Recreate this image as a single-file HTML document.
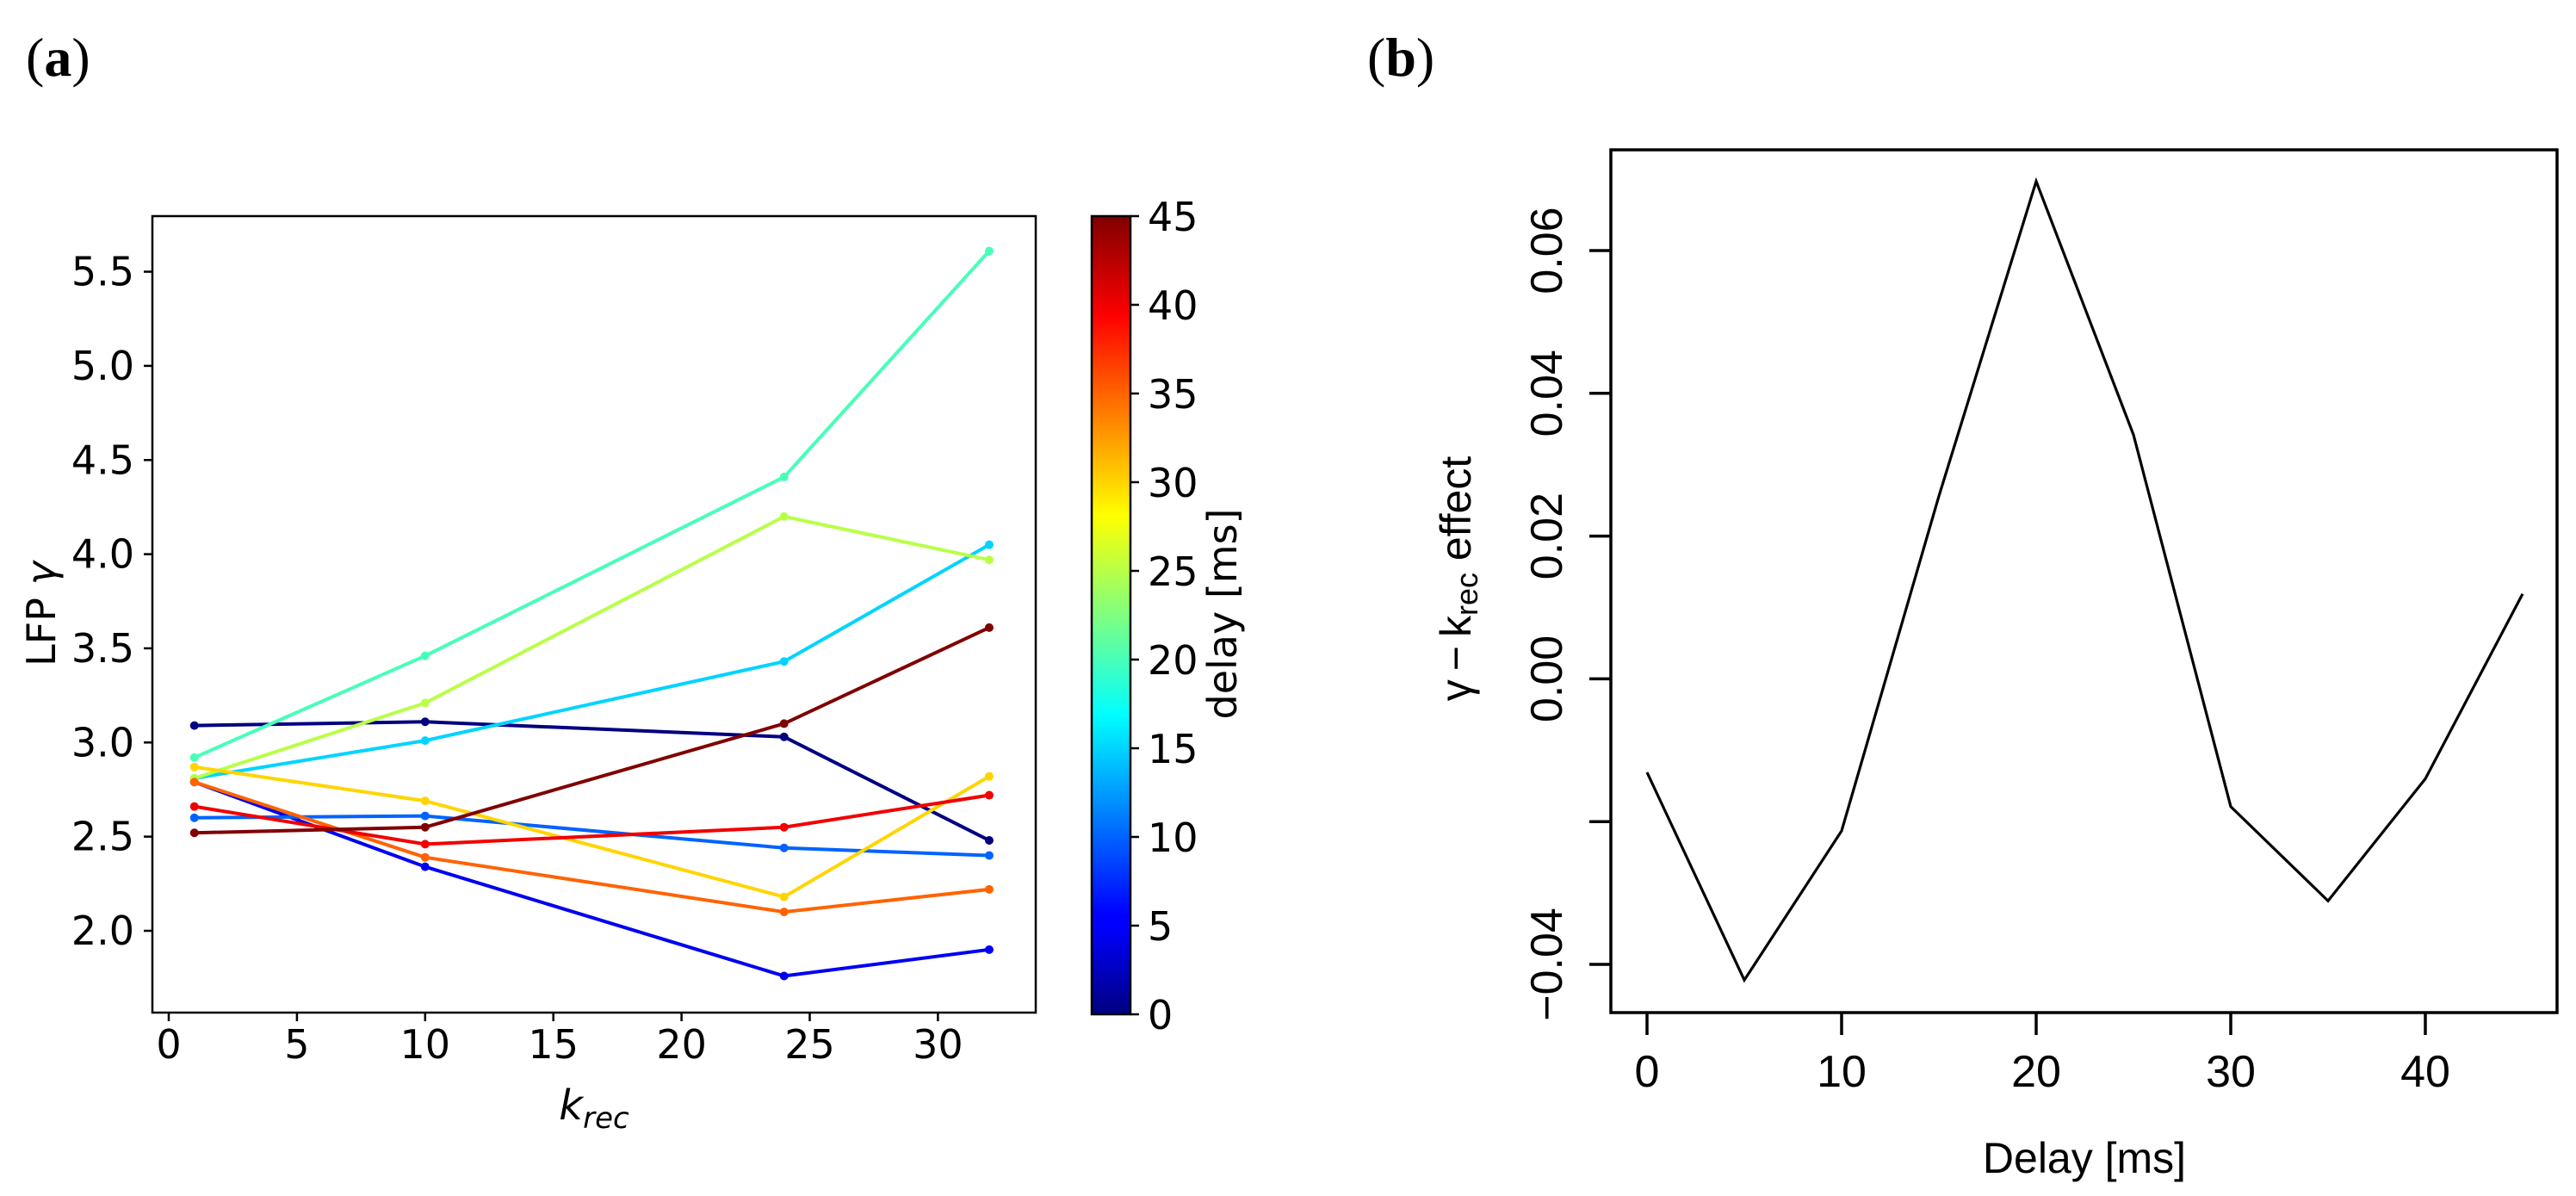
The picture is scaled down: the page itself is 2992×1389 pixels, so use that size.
<!DOCTYPE html>
<html><head><meta charset="utf-8"><style>
html,body{margin:0;padding:0;background:#fff;}
svg{display:block;font-family:"Liberation Sans",Arial,sans-serif;}
</style></head><body>
<svg id="fig" width="2992" height="1389" viewBox="0 0 2992 1389" xmlns="http://www.w3.org/2000/svg">
<defs>
<linearGradient id="jetGrad" x1="0" y1="1" x2="0" y2="0">
<stop offset="0" stop-color="#000080"/>
<stop offset="0.11" stop-color="#0000ff"/>
<stop offset="0.125" stop-color="#0000ff"/>
<stop offset="0.375" stop-color="#00ffff"/>
<stop offset="0.625" stop-color="#ffff00"/>
<stop offset="0.875" stop-color="#ff0000"/>
<stop offset="1" stop-color="#800000"/>
</linearGradient>
</defs>
<text x="30" y="88" style="font-family:'Liberation Serif',serif" font-size="64">(<tspan font-weight="bold">a</tspan>)</text>
<text x="1588" y="88" style="font-family:'Liberation Serif',serif" font-size="64">(<tspan font-weight="bold">b</tspan>)</text>
<g id="left"></g>
<g id="right"></g>
</svg>
<script>
// ---- Panel (a) data ----
const kValues = [1, 10, 24, 32];
const delays = [0, 5, 10, 15, 20, 25, 30, 35, 40, 45];
const gamma0 = [3.09, 3.11, 3.03, 2.48];
const gamma5 = [2.79, 2.34, 1.76, 1.90];
const gamma10 = [2.60, 2.61, 2.44, 2.40];
const gamma15 = [2.81, 3.01, 3.43, 4.05];
const gamma20 = [2.92, 3.46, 4.41, 5.61];
const gamma25 = [2.81, 3.21, 4.20, 3.97];
const gamma30 = [2.87, 2.69, 2.18, 2.82];
const gamma35 = [2.79, 2.39, 2.10, 2.22];
const gamma40 = [2.66, 2.46, 2.55, 2.72];
const gamma45 = [2.52, 2.55, 3.10, 3.61];
const leftXTicks = [0, 5, 10, 15, 20, 25, 30];
const leftYTicks = [2.0, 2.5, 3.0, 3.5, 4.0, 4.5, 5.0, 5.5];
const cbTicks = [0, 5, 10, 15, 20, 25, 30, 35, 40, 45];
// ---- Panel (b) data ----
const delayB = [0, 5, 10, 15, 20, 25, 30, 35, 40, 45];
const effectB = [-0.0131, -0.0422, -0.0213, 0.0256, 0.0697, 0.0342, -0.0179, -0.0311, -0.0140, 0.0119];
const rightXTicks = [0, 10, 20, 30, 40];
const rightYTicks = [-0.04, -0.02, 0.00, 0.02, 0.04, 0.06];
const rightYLabels = ["\u22120.04", "", "0.00", "0.02", "0.04", "0.06"];

const NS = "http://www.w3.org/2000/svg";
const DJ = "font-family:'DejaVu Sans',sans-serif";
function mk(tag, attrs, parent) {
  const e = document.createElementNS(NS, tag);
  for (const k in attrs) e.setAttribute(k, attrs[k]);
  parent.appendChild(e);
  return e;
}
function jet(v) {
  const c = x => Math.max(0, Math.min(1, x));
  const r = c(1.5 - Math.abs(4 * v - 3)), g = c(1.5 - Math.abs(4 * v - 2)), b = c(1.5 - Math.abs(4 * v - 1));
  return `rgb(${Math.round(r * 255)},${Math.round(g * 255)},${Math.round(b * 255)})`;
}

// ---- Panel (a) ----
const L = document.getElementById('left');
const lx = v => 196 + (v - 0) * 29.78;
const ly = v => 1081 - (v - 2.0) * 218.7;
const box = mk('rect', {x: 177, y: 251, width: 1026, height: 925, fill: 'none', stroke: '#000', 'stroke-width': 2.5}, L);


leftXTicks.forEach(t => {
  const tk = mk('line', {x1: lx(t), x2: lx(t), y1: 1176, y2: 1186, stroke: '#000', 'stroke-width': 2.5}, L);
  
  
  const tl = mk('text', {x: lx(t), y: 1229, 'font-size': 46, 'text-anchor': 'middle', style: DJ}, L);
  tl.textContent = t;
  
  
});
leftYTicks.forEach(t => {
  const tk = mk('line', {x1: 167, x2: 177, y1: ly(t), y2: ly(t), stroke: '#000', 'stroke-width': 2.5}, L);
  
  
  const tl = mk('text', {x: 156, y: ly(t) + 16, 'font-size': 46, 'text-anchor': 'end', style: DJ}, L);
  tl.textContent = t.toFixed(1);
  
  
});
const allSeries = [gamma0, gamma5, gamma10, gamma15, gamma20, gamma25, gamma30, gamma35, gamma40, gamma45];
allSeries.forEach((s, i) => {
  const col = jet(delays[i] / 45);
  const pl = mk('polyline', {points: s.map((v, j) => lx(kValues[j]) + ',' + ly(v)).join(' '), fill: 'none', stroke: col, 'stroke-width': 4}, L);
  
  
  s.forEach((v, j) => {
    const c = mk('circle', {cx: lx(kValues[j]), cy: ly(v), r: 5, fill: col}, L);
    
    
  });
});
const xt = mk('text', {x: 690, y: 1300, 'font-size': 48, 'text-anchor': 'middle', 'font-style': 'italic', style: DJ}, L);
xt.innerHTML = 'k<tspan font-size="34" dy="10">rec</tspan>';


const yt = mk('text', {x: 0, y: 0, 'font-size': 46, 'text-anchor': 'middle', transform: 'translate(64,713) rotate(-90)', style: DJ}, L);
yt.innerHTML = 'LFP <tspan font-style="italic">\u03b3</tspan>';


// colorbar
const cby = v => 1178 - v / 45 * 927;
const cb = mk('rect', {x: 1268, y: 251, width: 45, height: 927, fill: 'url(#jetGrad)', stroke: '#000', 'stroke-width': 2.5}, L);


cbTicks.forEach(t => {
  const tk = mk('line', {x1: 1313, x2: 1323, y1: cby(t), y2: cby(t), stroke: '#000', 'stroke-width': 2.5}, L);
  
  
  const tl = mk('text', {x: 1333, y: cby(t) + 17, 'font-size': 46, style: DJ}, L);
  tl.textContent = t;
  
  
});
const ct = mk('text', {x: 0, y: 0, 'font-size': 46, 'text-anchor': 'middle', transform: 'translate(1436,713) rotate(-90)', style: DJ}, L);
ct.textContent = 'delay [ms]';



// ---- Panel (b) ----
const R = document.getElementById('right');
const rx = v => 1913 + v * 22.6;
const ry = v => 788.4 - v / 0.02 * 165.8;
const rb = mk('rect', {x: 1871, y: 174, width: 1099, height: 1002, fill: 'none', stroke: '#000', 'stroke-width': 3.5}, R);


rightXTicks.forEach(t => {
  const tk = mk('line', {x1: rx(t), x2: rx(t), y1: 1176, y2: 1202, stroke: '#000', 'stroke-width': 3.5}, R);
  
  
  const tl = mk('text', {x: rx(t), y: 1262, 'font-size': 52, 'text-anchor': 'middle'}, R);
  tl.textContent = t;
  
  
});
rightYTicks.forEach((t, i) => {
  const tk = mk('line', {x1: 1846, x2: 1871, y1: ry(t), y2: ry(t), stroke: '#000', 'stroke-width': 3.5}, R);
  
  
  if (rightYLabels[i]) {
    const tl = mk('text', {x: 0, y: 0, 'font-size': 52, 'text-anchor': 'middle', transform: `translate(1814,${ry(t)}) rotate(-90)`}, R);
    tl.textContent = rightYLabels[i];
    
    
  }
});
const rl = mk('polyline', {points: effectB.map((v, j) => rx(delayB[j]) + ',' + ry(v)).join(' '), fill: 'none', stroke: '#000', 'stroke-width': 3.2}, R);


const rxt = mk('text', {x: 2421, y: 1362, 'font-size': 50, 'text-anchor': 'middle'}, R);
rxt.textContent = 'Delay [ms]';


const ryt = mk('text', {x: 0, y: 0, 'font-size': 50, 'text-anchor': 'middle', transform: 'translate(1708,672) rotate(-90)'}, R);
ryt.innerHTML = '\u03b3\u2009\u2212\u2009k<tspan font-size="36" dy="8">rec</tspan><tspan dy="-8"> effect</tspan>';


</script>
</body></html>
